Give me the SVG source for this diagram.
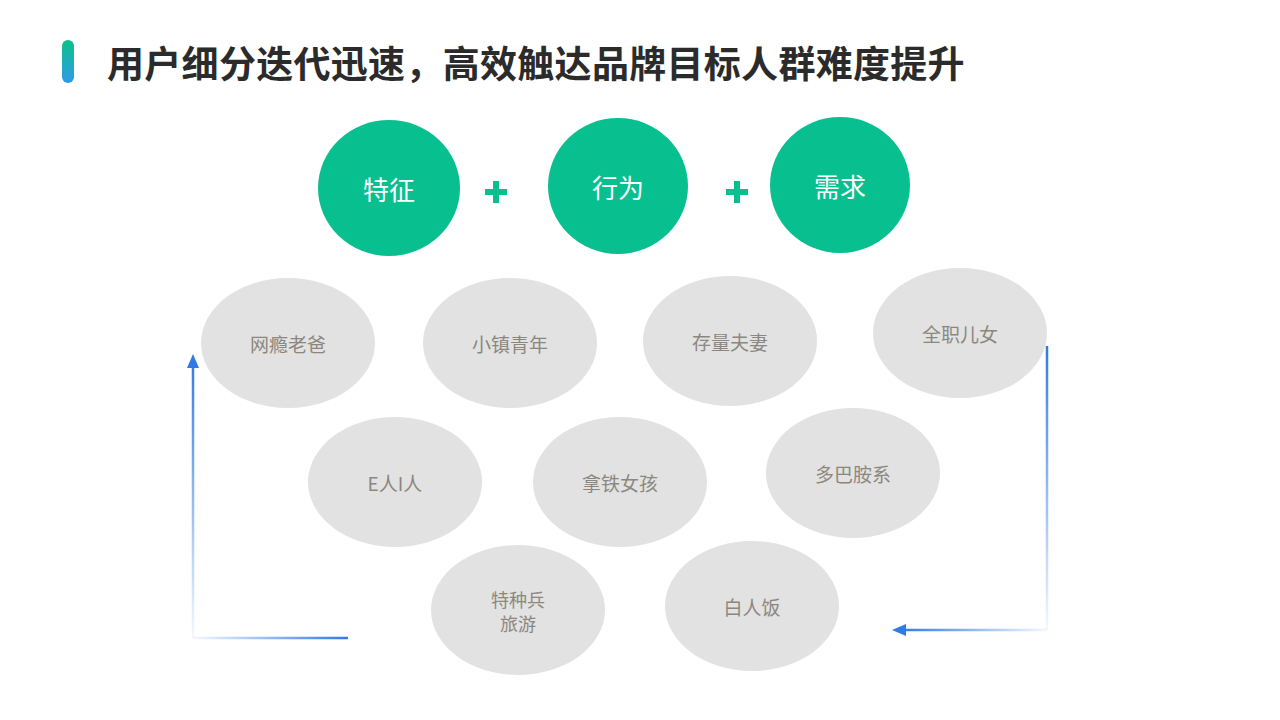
<svg xmlns="http://www.w3.org/2000/svg" width="1280" height="720" viewBox="0 0 1280 720">
<defs>
<linearGradient id="barGrad" x1="0" y1="0" x2="0" y2="1">
<stop offset="0" stop-color="#0bc08a"/>
<stop offset="1" stop-color="#2f9be8"/>
</linearGradient>
<linearGradient id="lv" gradientUnits="userSpaceOnUse" x1="0" y1="638" x2="0" y2="360">
<stop offset="0" stop-color="#2f7be6" stop-opacity="0.05"/>
<stop offset="1" stop-color="#2f7be6"/>
</linearGradient>
<linearGradient id="lh" gradientUnits="userSpaceOnUse" x1="193" y1="0" x2="348" y2="0">
<stop offset="0" stop-color="#2f7be6" stop-opacity="0.05"/>
<stop offset="1" stop-color="#2f7be6"/>
</linearGradient>
<linearGradient id="rv" gradientUnits="userSpaceOnUse" x1="0" y1="346" x2="0" y2="630">
<stop offset="0" stop-color="#2f7be6"/>
<stop offset="1" stop-color="#2f7be6" stop-opacity="0.05"/>
</linearGradient>
<linearGradient id="rh" gradientUnits="userSpaceOnUse" x1="1047" y1="0" x2="900" y2="0">
<stop offset="0" stop-color="#2f7be6" stop-opacity="0.05"/>
<stop offset="1" stop-color="#2f7be6"/>
</linearGradient>
</defs>
<style>
.title{font-family:"Noto Sans CJK SC","Noto Sans",sans-serif;font-weight:bold;font-size:37px;letter-spacing:0.3px;fill:#2b2b2b;}
.gc{fill:#08bf8f;}
.gt{font-family:"Noto Sans CJK SC","Noto Sans",sans-serif;font-size:26px;fill:#ffffff;text-anchor:middle;dominant-baseline:central;}
.ge{fill:#e2e2e2;}
.et{font-family:"Noto Sans CJK SC","Noto Sans",sans-serif;font-size:19px;fill:#8c877e;text-anchor:middle;dominant-baseline:central;}
.et2{font-size:18px;}
.plus{fill:#08bf8f;}
</style>
<rect width="1280" height="720" fill="#ffffff"/>
<rect x="62" y="40" width="12" height="43" rx="6" fill="url(#barGrad)"/>
<text class="title" x="107" y="78">用户细分迭代迅速，高效触达品牌目标人群难度提升</text>

<g id="tezheng"><ellipse class="gc" cx="389" cy="188" rx="71" ry="68"/><text class="gt" x="389" y="188">特征</text></g>
<g id="plus1"><rect class="plus" x="485" y="189" width="22" height="6"/><rect class="plus" x="493" y="181" width="6" height="22"/></g>
<g id="xingwei"><ellipse class="gc" cx="618" cy="186" rx="70" ry="68"/><text class="gt" x="618" y="186">行为</text></g>
<g id="plus2"><rect class="plus" x="726" y="189" width="22" height="6"/><rect class="plus" x="734" y="181" width="6" height="22"/></g>
<g id="xuqiu"><ellipse class="gc" cx="840" cy="185" rx="70" ry="68"/><text class="gt" x="840" y="185">需求</text></g>

<g id="n1"><ellipse class="ge" cx="288" cy="343" rx="87" ry="65"/><text class="et" x="288" y="343">网瘾老爸</text></g>
<g id="n2"><ellipse class="ge" cx="510" cy="343" rx="87" ry="65"/><text class="et" x="510" y="343">小镇青年</text></g>
<g id="n3"><ellipse class="ge" cx="730" cy="341" rx="87" ry="65"/><text class="et" x="730" y="341">存量夫妻</text></g>
<g id="n4"><ellipse class="ge" cx="960" cy="333" rx="87" ry="65"/><text class="et" x="960" y="333">全职儿女</text></g>
<g id="n5"><ellipse class="ge" cx="395" cy="482" rx="87" ry="65"/><text class="et" x="395" y="482">E人I人</text></g>
<g id="n6"><ellipse class="ge" cx="620" cy="482" rx="87" ry="65"/><text class="et" x="620" y="482">拿铁女孩</text></g>
<g id="n7"><ellipse class="ge" cx="853" cy="473" rx="87" ry="65"/><text class="et" x="853" y="473">多巴胺系</text></g>
<g id="n8"><ellipse class="ge" cx="518" cy="610" rx="87" ry="65"/><text class="et et2" x="518" y="599">特种兵</text><text class="et et2" x="518" y="623">旅游</text></g>
<g id="n9"><ellipse class="ge" cx="752" cy="606" rx="87" ry="65"/><text class="et" x="752" y="606">白人饭</text></g>

<g id="connectors" fill="none" stroke-width="2.5">
<line x1="193" y1="638" x2="193" y2="365" stroke="url(#lv)"/>
<line x1="193" y1="638" x2="348" y2="638" stroke="url(#lh)"/>
<polygon points="187,368 193,354 199,368" fill="#2f7be6" stroke="none"/>
<line x1="1047" y1="346" x2="1047" y2="630" stroke="url(#rv)"/>
<line x1="1047" y1="630" x2="904" y2="630" stroke="url(#rh)"/>
<polygon points="906,624 892,630 906,636" fill="#2f7be6" stroke="none"/>
</g>
</svg>
